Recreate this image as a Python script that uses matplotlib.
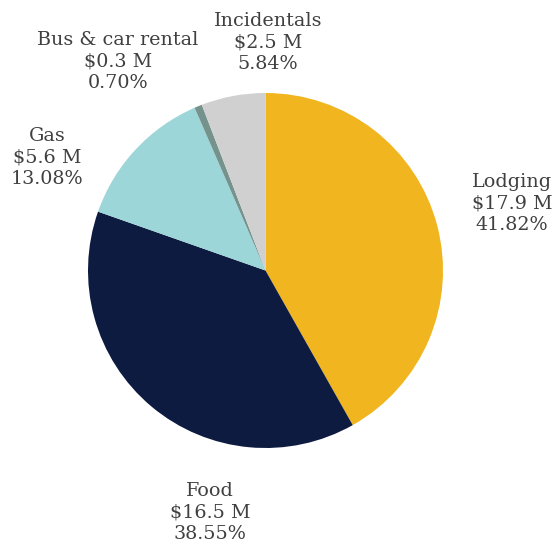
import matplotlib.pyplot as plt

# ---------- DATA ----------

categories = ['Lodging', 'Food', 'Gas', 'Bus & car rental', 'Incidentals']
amounts = [17.9, 16.5, 5.6, 0.3, 2.5]  # millions of dollars
shares = [41.82, 38.55, 13.08, 0.70, 5.84]  # percent of total
colors = ['#F0B51F', '#0D1B40', '#9CD6D8', '#76928C', '#D0D0D0']

# label centres, in units of the pie radius
label_pos = [(1.389, 0.375), (-0.313, -1.361), (-1.231, 0.639),
             (-0.831, 1.175), (0.014, 1.282)]

# ---------- PLOT ----------

fig = plt.figure(figsize=(5.56, 5.50), dpi=100)
ax = fig.add_axes([0, 0, 1, 1])

ax.pie(shares, colors=colors, startangle=90, counterclock=False,
       radius=1.0, center=(0, 0), wedgeprops=dict(linewidth=0))

for name, amt, pct, (x, y) in zip(categories, amounts, shares, label_pos):
    ax.text(x, y, f'{name}\n${amt} M\n{pct:.2f}%', ha='center', va='center',
            fontsize=13.8, color='#404040', family='DejaVu Serif',
            linespacing=1.25)

ax.set_xlim(-265.5 / 177.5, (556 - 265.5) / 177.5)
ax.set_ylim((270.5 - 550) / 177.5, 270.5 / 177.5)
ax.set_aspect('auto')
ax.axis('off')

fig.savefig('out.png', dpi=100)
